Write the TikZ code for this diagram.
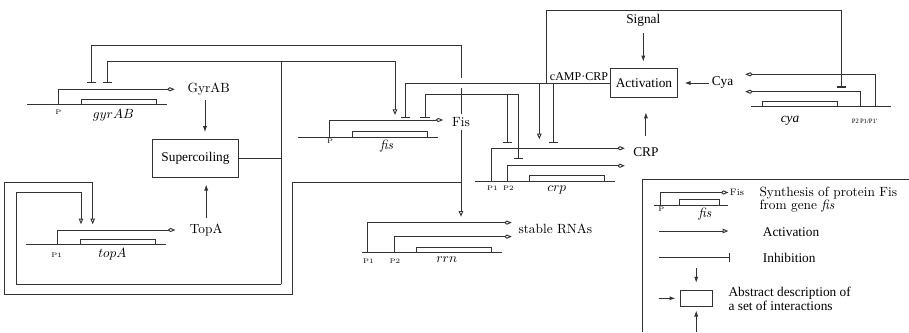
\documentclass[tikz,border=0pt]{standalone}
\usepackage{fontspec}
\newfontfamily\tms{Liberation Serif}
\usetikzlibrary{arrows.meta}

\begin{document}
\begin{tikzpicture}[
  x=0.75pt, y=-0.75pt,
  line/.style={line width=0.7pt, draw=black!80},
  act/.style={line, -{Triangle[open, length=1.5mm, width=1.2mm]}},
  inh/.style={line, -{Bar[width=2.5mm, line width=0.8pt]}},
  prod/.style={line, -{Kite[open, length=2mm, width=1.1mm, inset=0.7mm]}},
  flow/.style={line, -{Latex[length=1.6mm, width=1.1mm]}, shorten >=5pt},
  lbl/.style={inner sep=2pt},
  tlbl/.style={lbl, font=\tms},
  prom/.style={inner sep=0.5pt, font=\fontsize{5}{6}\selectfont},
  procbox/.style={draw=black!80, line width=0.7pt, font=\tms, inner sep=0pt},
]
\useasboundingbox (0,0) rectangle (909,332);

% ---- genes: baseline and coding box -------------------------------------
\foreach \gx/\gy in {27.3/104.7, 298.3/137, 26/244.3, 475/181, 362.3/252.3} {
  \draw[line] (\gx,\gy) -- ++(140,0);
  \draw[line] (\gx+54,\gy) rectangle ++(75,-5.3);
}
\draw[line] (751,106.7) -- (890.7,106.7);
\draw[line] (762.3,106.7) rectangle (837.3,101.4);

\node (gyrName) at (113.3,115) {$gyrAB$};
\node (fisName) at (386.7,146) {\textit{fis}};
\node (topName) at (112.3,254) {$topA$};
\node (crpName) at (556.7,190) {$crp$};
\node (rrnName) at (446.7,260) {$rrn$};
\node[font=\tms\itshape] (cyaName) at (790,121) {cya};

\node[prom] (gyrPl) at (58.3,112.7) {P};
\node[prom] (fisPl) at (330,141.7) {P};
\node[prom] (topPl) at (56.7,255) {P1};
\node[prom] (crpPl1) at (492.3,188.3) {P1};
\node[prom] (crpPl2) at (508.3,188.3) {P2};
\node[prom] (rrnPl1) at (368.3,261) {P1};
\node[prom] (rrnPl2) at (395,261) {P2};
\node[prom, font=\fontsize{5}{6}\selectfont\tms] (cyaPl) at (864.5,121) {P2\,P1/P1'};

% promoters
\coordinate (gyrP) at (58.3,104.7);
\coordinate (fisP) at (329.3,137);
\coordinate (topP) at (57.7,244.3);
\coordinate (crpP1) at (491.7,181);
\coordinate (crpP2) at (507.5,181);
\coordinate (rrnP1) at (367.3,252.3);
\coordinate (rrnP2) at (394.3,252.3);
\coordinate (cyaP1) at (875,106.7);
\coordinate (cyaP2) at (860.7,106.7);

% ---- products and processes ----------------------------------------------
\node[lbl] (GyrAB) at (208.7,89.3) {GyrAB};
\node[procbox, minimum width=64.2pt, minimum height=28.5pt] (Super)
  at (195.5,158.3) {Supercoiling};
\node[lbl] (TopA) at (206.2,230) {TopA};
\node[lbl] (Fis) at (461,122) {Fis};
\node[lbl, anchor=west] (RNA) at (515.6,229.3) {stable RNAs};
\node[tlbl] (CRP) at (645.9,152) {CRP};
\node[procbox, minimum width=50pt, minimum height=21.3pt] (Act)
  at (644,83) {Activation};
\node[tlbl] (Signal) at (643.3,20) {Signal};
\node[tlbl] (Cya) at (722.5,83) {Cya};
\node[font=\small\tms, anchor=south east, inner sep=1.5pt] (cAMP)
  at (Act.west) {cAMP·CRP};

\draw[prod, shorten >=7.5pt] (gyrP) |- (GyrAB.west);
\draw[prod, shorten >=4.6pt] (fisP) |- ([yshift=1.5pt]Fis.west);
\draw[prod, shorten >=8.7pt] (topP) |- (TopA.west);
\draw[prod, shorten >=2.9pt] (rrnP1) |- ([yshift=5pt]RNA.west);
\draw[prod, shorten >=2.9pt] (rrnP2) |- ([yshift=-5.5pt]RNA.west);
\draw[prod, shorten >=4.2pt] (crpP1) |- ([yshift=2.8pt]CRP.west);
\draw[prod, shorten >=4.2pt] (crpP2) |- ([yshift=-10.3pt]CRP.west);
\draw[prod, shorten >=6.8pt] (cyaP1) |- ([yshift=6.5pt]Cya.east);
\draw[prod, shorten >=6.8pt] (cyaP2) |- ([yshift=-6.5pt]Cya.east);

\coordinate (gyrOut) at ([xshift=-2.8pt]GyrAB.south);
\draw[flow, shorten <=1.5pt] (gyrOut) -- (gyrOut |- Super.north);
\draw[flow, shorten <=2pt] (TopA.north) -- (TopA.north |- Super.south);
\draw[flow, shorten <=3pt] (Signal.south) -- (Signal.south |- Act.north);
\draw[flow, shorten <=6.5pt, shorten >=11pt] (CRP.north)
  -- (CRP.north |- Act.south);
\draw[flow] (Cya.west) -- (Cya.west -| Act.east);

% ---- regulation targets ---------------------------------------------------
\coordinate (gyrI1) at (91.7,82.7);
\coordinate (gyrI2) at (107.3,82.7);
\coordinate (fisA) at (395,115);
\coordinate (fisI1) at (405.7,117.7);
\coordinate (fisI2) at (425,117.7);
\coordinate (topA1) at (81,224.3);
\coordinate (topA2) at (92.7,224.3);
\coordinate (rrnA) at (461,216.7);
\coordinate (crpA) at (539.3,139.3);
\coordinate (crpI1) at (553.3,142.7);
\coordinate (crpI2) at (507.7,142.7);
\coordinate (crpI3) at (518.3,159);
\coordinate (cyaI) at (841.7,87.5);

% bends of the long wires
\coordinate (fisTop) at (461,45.7);
\coordinate (fisBus) at (461,94.3);
\coordinate (oTR) at (292.7,182);
\coordinate (oBL) at (4.7,294.7);
\coordinate (oTL) at (92.7,182);
\coordinate (scTop) at (281,61.7);
\coordinate (scBot) at (281,284.3);
\coordinate (inL) at (16,192.3);
\coordinate (campUp) at (546,10);

% Fis
\draw[inh] (Fis.north) -- (fisTop) -| (gyrI1);
\draw[act] (Fis.south) -- (rrnA);
\draw[act] (Fis |- oTR) -- (oTR) |- (oBL) |- (oTL) -- (topA2);
\draw[inh] (fisBus) -| (fisI2);
\draw[inh] (fisBus) -| (crpI2);
\draw[inh] (fisBus) -| (crpI3);

% supercoiling
\draw[line] (Super.east) -- (Super.east -| scTop);
\draw[line] (scTop) -- (scBot);
\draw[inh] (scTop) -| (gyrI2);
\draw[act] (scTop) -| (fisA);
\draw[act] (scBot) -| (inL) -| (topA1);

% cAMP.CRP, hopping over the Fis wire
\coordinate (fisX) at (Fis |- Act.west);
\draw[white, line width=2.5pt] ([yshift=4pt]fisX) -- ([yshift=-4pt]fisX);
\draw[inh] (Act.west) -| (fisI1);
\draw[act] (Act.west -| crpA) -- (crpA);
\draw[inh] (Act.west -| crpI1) -- (crpI1);
\draw[inh] (Act.west -| campUp) -- (campUp) -| (cyaI);

% ---- legend ----------------------------------------------------------------
\draw[line] (642.3,332) |- (909,179.3);
\draw[line] (654.3,205) -- (728.3,205);
\draw[line] (679.3,205) rectangle (719,199.5);
\coordinate (legP) at (660.7,205);
\node[font=\scriptsize, inner sep=1pt] (legFis) at (737,192.5) {Fis};
\draw[prod] (legP) |- (legFis.west);
\node[prom] (legPl) at (661.3,209.3) {P};
\node (legName) at (705,214.3) {\textit{fis}};
% base of a two-line node is the baseline of its last line
\node[anchor=base west, align=left, inner sep=0pt] (legSyn) at (759.3,209)
  {Synthesis of protein Fis\\[-2.5pt] from gene \textit{fis}};

\coordinate (actL) at (659.3,231);
\coordinate (actR) at (728.3,231);
\draw[act] (actL) -- (actR);
\node[tlbl, anchor=west] (legAct) at (760,232) {Activation};

\coordinate (inhL) at (659.3,257.7);
\coordinate (inhR) at (730,257.7);
\draw[inh] (inhL) -- (inhR);
\node[tlbl, anchor=west] (legInh) at (760,257.7) {Inhibition};

\node[procbox, minimum width=24.2pt, minimum height=12.5pt] (absBox)
  at (696.2,298.3) {};
\coordinate (absT) at (696.2,268.3);
\coordinate (absL) at (658.7,298.3);
\coordinate (absB) at (696.2,332);
\draw[flow] (absT) -- (absBox.north);
\draw[flow, shorten >=3pt] (absL) -- (absBox.west);
\draw[flow, shorten >=2.5pt] (absB) -- (absBox.south);
\node[tlbl, anchor=west, align=left, inner sep=0pt] (legAbs) at (728.3,299)
  {Abstract description of\\[-2pt] a set of interactions};

\end{tikzpicture}
\end{document}
